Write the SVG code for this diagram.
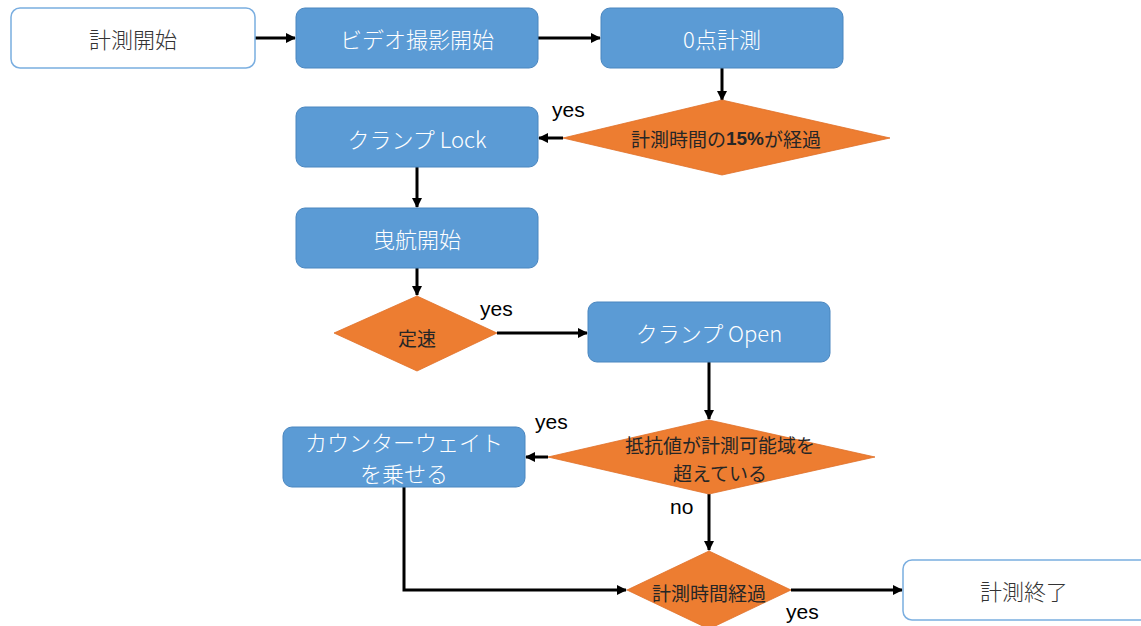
<svg xmlns="http://www.w3.org/2000/svg" width="1141" height="626" viewBox="0 0 1141 626">
<style>
.box{fill:#5b9bd5;stroke:#4a86bf;stroke-width:1}
.term{fill:#ffffff;stroke:#7aaee0;stroke-width:1.5}
.dia{fill:#ed7d31;stroke:#e07028;stroke-width:0.8}
.bt{font-family:"Noto Sans CJK JP","Noto Sans",sans-serif;font-weight:300;font-size:22px;fill:#ffffff;text-anchor:middle;dominant-baseline:central}
.tt{font-family:"Noto Sans CJK JP","Noto Sans",sans-serif;font-weight:300;font-size:22px;fill:#333333;text-anchor:middle;dominant-baseline:central}
.dt{font-family:"Noto Sans CJK JP","Noto Sans",sans-serif;font-weight:400;font-size:19px;fill:#262626;text-anchor:middle;dominant-baseline:central}
.lbl{font-family:"Liberation Sans",Arial,sans-serif;font-size:21px;fill:#000000}
.c{fill:none;stroke:#000000;stroke-width:3;marker-end:url(#ah)}
</style>
<defs>
<marker id="ah" markerWidth="10" markerHeight="10" refX="9" refY="5" orient="auto" markerUnits="userSpaceOnUse" viewBox="0 0 10 10">
<path d="M0,0 L10,5 L0,10 z" fill="#000000"/>
</marker>
</defs>
<g id="connectors">
<path class="c" d="M255,38 L295,38"/>
<path class="c" d="M538,38 L600,38"/>
<path class="c" d="M722,68 L722,100"/>
<path class="c" d="M563,138 L539,138"/>
<path class="c" d="M417,167 L417,207"/>
<path class="c" d="M417,268 L417,295"/>
<path class="c" d="M497,333 L587,333"/>
<path class="c" d="M709,362 L709,419"/>
<path class="c" d="M548,457 L526,457"/>
<path class="c" d="M709,494 L709,550"/>
<path class="c" d="M404,487 L404,590 L626,590"/>
<path class="c" d="M791,590 L902,590"/>
<text class="lbl" x="552" y="117">yes</text>
<text class="lbl" x="480" y="316">yes</text>
<text class="lbl" x="535" y="429">yes</text>
<text class="lbl" x="670" y="514">no</text>
<text class="lbl" x="786" y="619">yes</text>
</g>
<g id="n-start">
<rect class="term" x="11" y="8" width="244" height="60" rx="9"/>
<text class="tt" x="133" y="38">計測開始</text>
</g>
<g id="n-video">
<rect class="box" x="296" y="8" width="242" height="60" rx="9"/>
<text class="bt" x="417" y="38">ビデオ撮影開始</text>
</g>
<g id="n-zero">
<rect class="box" x="601" y="8" width="242" height="60" rx="9"/>
<text class="bt" x="722" y="38">0点計測</text>
</g>
<g id="n-d15">
<polygon class="dia" points="722,100 890,138 722,175 563,138"/>
<text class="dt" x="726" y="138">計測時間の<tspan font-family="Liberation Sans,Arial,sans-serif" font-weight="bold">15%</tspan>が経過</text>
</g>
<g id="n-lock">
<rect class="box" x="296" y="107" width="242" height="60" rx="9"/>
<text class="bt" x="417" y="138">クランプ Lock</text>
</g>
<g id="n-tow">
<rect class="box" x="296" y="208" width="242" height="60" rx="9"/>
<text class="bt" x="417" y="238">曳航開始</text>
</g>
<g id="n-const">
<polygon class="dia" points="417,296 497,333 417,371 334,333"/>
<text class="dt" x="417" y="337">定速</text>
</g>
<g id="n-open">
<rect class="box" x="588" y="302" width="242" height="60" rx="9"/>
<text class="bt" x="709" y="332">クランプ Open</text>
</g>
<g id="n-resist">
<polygon class="dia" points="709,420 875,457 709,494 548,457"/>
<text class="dt" x="720" y="444">抵抗値が計測可能域を</text>
<text class="dt" x="720" y="472">超えている</text>
</g>
<g id="n-counter">
<rect class="box" x="283" y="427" width="242" height="60" rx="9"/>
<text class="bt" x="404" y="441" font-size="21">カウンターウェイト</text>
<text class="bt" x="404" y="472" font-size="21">を乗せる</text>
</g>
<g id="n-elapsed">
<polygon class="dia" points="709,551 791,590 709,629 627,590"/>
<text class="dt" x="709" y="592">計測時間経過</text>
</g>
<g id="n-end">
<rect class="term" x="903" y="560" width="248" height="60" rx="9"/>
<text class="tt" x="1024" y="590">計測終了</text>
</g>
</svg>
